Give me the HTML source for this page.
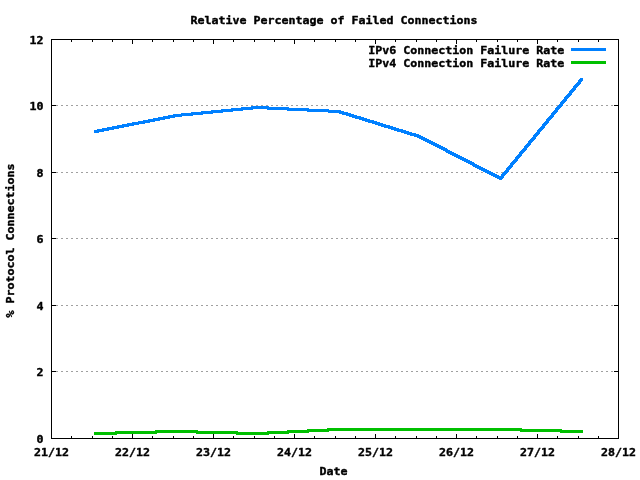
<!DOCTYPE html>
<html lang="en"><head><meta charset="utf-8"><title>Relative Percentage of Failed Connections</title>
<style>
html,body{margin:0;padding:0;background:#fff;}
body{width:640px;height:480px;overflow:hidden;}
svg{display:block;}
text{font-family:"DejaVu Sans Mono","Liberation Mono",monospace;font-weight:bold;font-size:11.0px;letter-spacing:0.0px;fill:#000;stroke:#000;stroke-width:0.4px;stroke-linejoin:round;}
.ax{stroke:#000;stroke-width:1;fill:none;shape-rendering:crispEdges;}
.grid{stroke:#a0a0a0;stroke-width:1;stroke-dasharray:2 3;fill:none;shape-rendering:crispEdges;}
.f6{fill:#0080ff;stroke:none;shape-rendering:crispEdges;}
.f4{fill:#00c000;stroke:none;shape-rendering:crispEdges;}
</style></head><body>
<svg width="640" height="480" viewBox="0 0 640 480">
<rect x="0" y="0" width="640" height="480" fill="#ffffff"/>
<g class="grid">
<line x1="51" y1="371.5" x2="618" y2="371.5"/>
<line x1="51" y1="305.5" x2="618" y2="305.5"/>
<line x1="51" y1="238.5" x2="618" y2="238.5"/>
<line x1="51" y1="172.5" x2="618" y2="172.5"/>
<line x1="51" y1="105.5" x2="618" y2="105.5"/>
</g>
<g class="ax">
<rect x="51.5" y="39.5" width="567" height="399"/>
<path d="M51 371.5h5M619 371.5h-5M51 305.5h5M619 305.5h-5M51 238.5h5M619 238.5h-5M51 172.5h5M619 172.5h-5M51 105.5h5M619 105.5h-5M71.5 439v-3M71.5 39v3M92.5 439v-3M92.5 39v3M112.5 439v-3M112.5 39v3M132.5 439v-5M132.5 39v5M152.5 439v-3M152.5 39v3M173.5 439v-3M173.5 39v3M193.5 439v-3M193.5 39v3M213.5 439v-5M213.5 39v5M233.5 439v-3M233.5 39v3M254.5 439v-3M254.5 39v3M274.5 439v-3M274.5 39v3M294.5 439v-5M294.5 39v5M314.5 439v-3M314.5 39v3M335.5 439v-3M335.5 39v3M355.5 439v-3M355.5 39v3M375.5 439v-5M375.5 39v5M395.5 439v-3M395.5 39v3M416.5 439v-3M416.5 39v3M436.5 439v-3M436.5 39v3M456.5 439v-5M456.5 39v5M476.5 439v-3M476.5 39v3M497.5 439v-3M497.5 39v3M517.5 439v-3M517.5 39v3M537.5 439v-5M537.5 39v5M557.5 439v-3M557.5 39v3M578.5 439v-3M578.5 39v3M598.5 439v-3M598.5 39v3"/>
</g>
<path class="f6" d="M94.48 130.001L175.48 114.001L177.52 114.001L177.52 116.999L96.52 132.999L94.48 132.999ZM175.48 114.001L256.48 106.001L258.52 106.001L258.52 108.999L177.52 116.999L175.48 116.999ZM256.48 106.001L258.52 106.001L339.52 110.001L339.52 112.999L337.48 112.999L256.48 108.999ZM337.48 110.001L339.52 110.001L420.52 135.001L420.52 137.999L418.48 137.999L337.48 112.999ZM418.48 135.001L420.52 135.001L501.52 177.001L501.52 179.999L499.48 179.999L418.48 137.999ZM499.001 177.48L580.001 78.48L582.999 78.48L582.999 80.52L501.999 179.52L499.001 179.52Z"/>
<path class="f4" d="M94.48 432L175.48 430L177.52 430L177.52 433L96.52 435L94.48 435ZM175.48 430L177.52 430L258.52 432L258.52 435L256.48 435L175.48 433ZM256.48 432L337.48 428L339.52 428L339.52 431L258.52 435L256.48 435ZM337.48 428L420.52 428L420.52 431L337.48 431ZM418.48 428L501.52 428L501.52 431L418.48 431ZM499.48 428L501.52 428L582.52 430L582.52 433L580.48 433L499.48 431Z"/>
<rect class="f6" x="571" y="48" width="35" height="3"/>
<rect class="f4" x="571" y="61" width="35" height="3"/>
<text x="333.9" y="24" text-anchor="middle" textLength="287" lengthAdjust="spacingAndGlyphs">Relative Percentage of Failed Connections</text>
<text x="564.3" y="54" text-anchor="end" textLength="196" lengthAdjust="spacingAndGlyphs">IPv6 Connection Failure Rate</text>
<text x="564.3" y="67" text-anchor="end" textLength="196" lengthAdjust="spacingAndGlyphs">IPv4 Connection Failure Rate</text>
<text x="43.4" y="443" text-anchor="end" textLength="7" lengthAdjust="spacingAndGlyphs">0</text>
<text x="43.4" y="376" text-anchor="end" textLength="7" lengthAdjust="spacingAndGlyphs">2</text>
<text x="43.4" y="310" text-anchor="end" textLength="7" lengthAdjust="spacingAndGlyphs">4</text>
<text x="43.4" y="243" text-anchor="end" textLength="7" lengthAdjust="spacingAndGlyphs">6</text>
<text x="43.4" y="177" text-anchor="end" textLength="7" lengthAdjust="spacingAndGlyphs">8</text>
<text x="43.4" y="110" text-anchor="end" textLength="14" lengthAdjust="spacingAndGlyphs">10</text>
<text x="43.4" y="44" text-anchor="end" textLength="14" lengthAdjust="spacingAndGlyphs">12</text>
<text x="51.5" y="456" text-anchor="middle" textLength="35" lengthAdjust="spacingAndGlyphs">21/12</text>
<text x="132.5" y="456" text-anchor="middle" textLength="35" lengthAdjust="spacingAndGlyphs">22/12</text>
<text x="213.5" y="456" text-anchor="middle" textLength="35" lengthAdjust="spacingAndGlyphs">23/12</text>
<text x="294.5" y="456" text-anchor="middle" textLength="35" lengthAdjust="spacingAndGlyphs">24/12</text>
<text x="375.5" y="456" text-anchor="middle" textLength="35" lengthAdjust="spacingAndGlyphs">25/12</text>
<text x="456.5" y="456" text-anchor="middle" textLength="35" lengthAdjust="spacingAndGlyphs">26/12</text>
<text x="537.5" y="456" text-anchor="middle" textLength="35" lengthAdjust="spacingAndGlyphs">27/12</text>
<text x="618.5" y="456" text-anchor="middle" textLength="35" lengthAdjust="spacingAndGlyphs">28/12</text>
<text x="333.5" y="475" text-anchor="middle" textLength="28" lengthAdjust="spacingAndGlyphs">Date</text>
<text x="0" y="0" text-anchor="middle" textLength="154" lengthAdjust="spacingAndGlyphs" transform="translate(14,240.5) rotate(-90)">% Protocol Connections</text>
</svg>
</body></html>
